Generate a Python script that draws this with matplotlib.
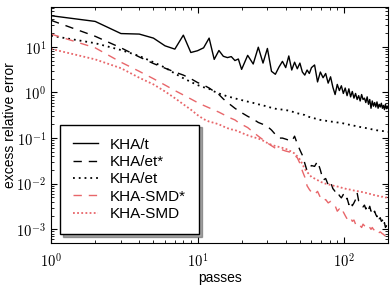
import math
import matplotlib
matplotlib.use('Agg')
import matplotlib.pyplot as plt
from matplotlib.ticker import LogLocator, FuncFormatter, NullFormatter

plt.rcParams['font.family'] = ['Liberation Sans', 'DejaVu Sans']
plt.rcParams['mathtext.fontset'] = 'cm'

# passes (x grid)
passes = list(range(1, 21)) + list(range(22, 61, 2)) + list(range(63, 199, 3)) + [200]

kha_t = [48, 36, 19.5, 19, 15.5, 10.5, 8.9, 18, 7.5, 8.2,
         9.5, 15.5, 5.3, 8.3, 6.2, 5.8, 6.1, 5.0, 5.4, 3.2,
         6.5, 4.2, 9.8, 4.4, 9.2, 2.9, 2.5, 3.6, 4.8, 3.5,
         6.3, 3.1, 4.6, 3.3, 4.4, 2.8, 2.4, 3.1, 2.6, 3.5,
         4.0, 1.7, 2.8, 2.1, 2.6, 1.6, 2.2, 1.3, 0.9, 1.5,
         1.1, 1.4, 0.95, 1.25, 0.85, 1.2, 0.8, 1.05, 0.75, 0.95,
         0.7, 0.85, 0.65, 0.9, 0.7, 0.75, 0.6, 0.8, 0.55, 0.7,
         0.45, 0.65, 0.5, 0.6, 0.48, 0.62, 0.45, 0.55, 0.48, 0.58,
         0.45, 0.52, 0.42, 0.55, 0.44, 0.5,
         0.45]

kha_et_star = [38, 17, 9.5, 6.0, 4.3, 3.4, 2.8, 2.4, 2.0, 1.65,
               1.45, 1.25, 1.05, 0.9, 0.72, 0.6, 0.52, 0.45, 0.4, 0.36,
               0.3, 0.26, 0.22, 0.2, 0.18, 0.15, 0.12, 0.1, 0.1, 0.095,
               0.09, 0.085, 0.11, 0.075, 0.055, 0.042, 0.028, 0.019, 0.022, 0.025,
               0.024, 0.031, 0.02, 0.012, 0.013, 0.0095, 0.011, 0.0078, 0.0068, 0.0072,
               0.0055, 0.0049, 0.0058, 0.0044, 0.0048, 0.0035, 0.0042, 0.0033, 0.0038, 0.0045,
               0.0063, 0.0042, 0.0039, 0.0036, 0.0031, 0.0034, 0.0028, 0.0033, 0.0027, 0.0032,
               0.0025, 0.0028, 0.0023, 0.0025, 0.0021, 0.0019, 0.0022, 0.0017, 0.0018, 0.0015,
               0.0016, 0.0012, 0.0014, 0.0011, 0.0012, 0.001,
               0.00095]

kha_et = [17.5, 12, 8.5, 6.3, 4.6, 3.5, 2.6, 2.05, 1.7, 1.45,
          1.3, 1.2, 1.05, 0.95, 0.88, 0.82, 0.78, 0.74, 0.71, 0.68,
          0.63, 0.59, 0.55, 0.52, 0.49, 0.46, 0.44, 0.43, 0.42, 0.41,
          0.4, 0.38, 0.37, 0.35, 0.34, 0.33, 0.32, 0.3, 0.29, 0.28,
          0.27, 0.26, 0.25, 0.245, 0.24, 0.235, 0.23, 0.228, 0.225, 0.22,
          0.218, 0.215, 0.21, 0.205, 0.2, 0.197, 0.194, 0.19, 0.187, 0.184,
          0.181, 0.178, 0.175, 0.172, 0.17, 0.168, 0.166, 0.163, 0.161, 0.159,
          0.157, 0.155, 0.153, 0.151, 0.15, 0.148, 0.147, 0.146, 0.145, 0.144,
          0.143, 0.142, 0.141, 0.14, 0.139, 0.138,
          0.137]

kha_smd_star = [19, 9.5, 4.6, 2.9, 2.0, 1.45, 1.1, 0.88, 0.72, 0.6,
                0.52, 0.46, 0.41, 0.37, 0.33, 0.3, 0.27, 0.25, 0.22, 0.2,
                0.17, 0.135, 0.11, 0.092, 0.078, 0.068, 0.06, 0.058, 0.055, 0.052,
                0.05, 0.047, 0.042, 0.037, 0.028, 0.019, 0.014, 0.009, 0.0075, 0.0065,
                0.0058, 0.0068, 0.005, 0.0042, 0.0045, 0.0038, 0.0041, 0.0036, 0.0033, 0.0025,
                0.0028, 0.0022, 0.0024, 0.002, 0.0017, 0.0019, 0.0018, 0.0015, 0.0016, 0.0013,
                0.0012, 0.0013, 0.0012, 0.0011, 0.0013, 0.0012, 0.0011, 0.0012, 0.0012, 0.0011,
                0.001, 0.0011, 0.001, 0.00095, 0.001, 0.0009, 0.00092, 0.00085, 0.00088, 0.00084,
                0.0008, 0.00078, 0.00074, 0.00071, 0.00068, 0.00066,
                0.00065]

kha_smd = [9, 5.3, 3.4, 2.1, 1.5, 1.05, 0.75, 0.55, 0.42, 0.32,
           0.26, 0.23, 0.215, 0.2, 0.18, 0.165, 0.155, 0.15, 0.14, 0.13,
           0.115, 0.105, 0.098, 0.088, 0.078, 0.071, 0.067, 0.064, 0.061, 0.058,
           0.054, 0.05, 0.046, 0.04, 0.034, 0.027, 0.021, 0.018, 0.016, 0.014,
           0.013, 0.012, 0.011, 0.0105, 0.01, 0.0097, 0.0094, 0.0091, 0.0089, 0.0087,
           0.0085, 0.0082, 0.008, 0.0078, 0.0076, 0.0075, 0.0074, 0.0072, 0.0071, 0.007,
           0.0069, 0.0068, 0.0067, 0.0066, 0.0065, 0.0064, 0.0063, 0.0062, 0.0061, 0.006,
           0.0059, 0.0058, 0.0057, 0.0056, 0.0055, 0.0055, 0.0054, 0.0053, 0.0053, 0.0052,
           0.0052, 0.0051, 0.0051, 0.005, 0.005, 0.0049,
           0.0049]

red = '#e8666a'

fig = plt.figure(figsize=(3.9, 2.86), dpi=100)
ax = fig.add_axes([0.131, 0.150, 0.864, 0.826])

ax.plot(passes, kha_t, color='black', lw=1.0, label='KHA/t')
ax.plot(passes, kha_et_star, color='black', lw=1.0, dashes=(6, 5), label='KHA/et*')
ax.plot(passes, kha_et, color='black', lw=1.3, dashes=(1, 2.2), label='KHA/et')
ax.plot(passes, kha_smd_star, color=red, lw=1.0, dashes=(6, 5), label='KHA-SMD*')
ax.plot(passes, kha_smd, color=red, lw=1.3, dashes=(1, 1.3), label='KHA-SMD')

ax.set_xscale('log')
ax.set_yscale('log')
ax.set_xlim(1, 200)
ax.set_ylim(5e-4, 75)

pow_fmt = FuncFormatter(lambda v, pos: r'$10^{%d}$' % round(math.log10(v)))
for axis in (ax.xaxis, ax.yaxis):
    axis.set_major_locator(LogLocator(base=10))
    axis.set_major_formatter(pow_fmt)
    axis.set_minor_locator(LogLocator(base=10, subs=range(2, 10)))
    axis.set_minor_formatter(NullFormatter())

ax.tick_params(which='both', direction='in', top=True, right=True, labelsize=10.5)
ax.tick_params(which='major', length=4, width=0.8)
ax.tick_params(which='minor', length=2, width=0.6)
ax.tick_params(axis='x', pad=6)

ax.set_xlabel('passes', fontsize=10, labelpad=1)
ax.set_ylabel('excess relative error', fontsize=10)
ax.yaxis.set_label_coords(-0.102, 0.5)

leg = ax.legend(loc='lower left', fontsize=11, fancybox=False, shadow=True,
                framealpha=1, edgecolor='black', handlelength=1.6,
                labelspacing=0.22, borderpad=0.85, handletextpad=0.8,
                borderaxespad=0.6)
leg.get_frame().set_linewidth(1.0)

fig.savefig('out.png', dpi=100)
